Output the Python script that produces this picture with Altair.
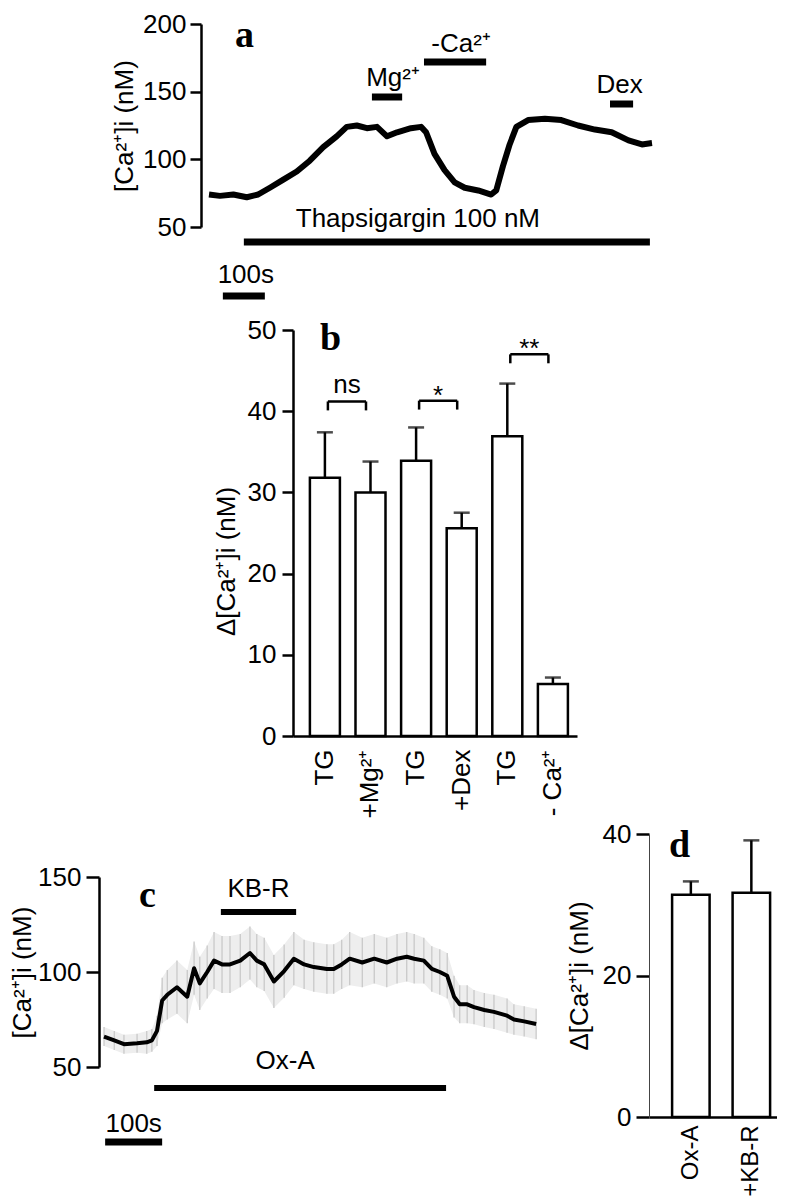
import altair as alt
import pandas as pd

SANS = "Liberation Sans"
SERIF = "Liberation Serif"
FS = 26

# ---------------- panel a : [Ca2+]i trace with thapsigargin ----------------
a_time_s = [0, 26, 58, 90, 117, 145, 177, 209, 240, 272, 304, 328, 352, 376, 400, 424, 448, 481, 505, 517,
            537, 561, 585, 609, 641, 672, 684, 700, 716, 732, 760, 800, 839, 879, 919, 959, 999, 1031, 1055]
a_ca_nM = [74, 73, 74, 72, 74, 79, 85, 91, 99, 109, 117, 124, 125, 123, 124, 117, 120, 123, 124, 120,
           104, 92, 83, 79, 77, 74, 77, 95, 111, 124, 129, 130, 129, 125, 122, 120, 114, 111, 112]
a_events = ["Thapsigargin 100 nM", "Mg²⁺", "-Ca²⁺", "Dex"]
a_event_start_s = [83, 388, 512, 955]
a_event_end_s = [1050, 460, 660, 1010]
a_scalebar_s = [33, 133]
a_yticks = [50, 100, 150, 200]

# ---------------- panel b : bar chart ----------------
b_groups = ["TG#1", "+Mg²⁺", "TG#2", "+Dex", "TG#3", "- Ca²⁺"]
b_mean = [31.8, 30.0, 33.9, 25.6, 36.9, 6.4]
b_sem = [5.6, 3.8, 4.1, 1.9, 6.5, 0.8]
b_sig_left = ["TG#1", "TG#2", "TG#3"]
b_sig_right = ["+Mg²⁺", "+Dex", "- Ca²⁺"]
b_sig_level = [41.2, 41.3, 47.0]
b_sig_leg = [1.1, 1.1, 1.1]
b_sig_text = ["ns", "*", "**"]
b_yticks = [0, 10, 20, 30, 40, 50]

# ---------------- panel c : orexin-A trace (mean +/- SD) ----------------
c_time_s = [0, 18, 35, 58, 75, 84, 93, 102, 111, 128, 146, 158, 168, 181, 193, 207, 221, 239, 256, 268,
            281, 298, 316, 333, 351, 368, 391, 403, 417, 431, 453, 474, 496, 514, 531, 544, 561, 575, 589, 602,
            614, 624, 637, 649, 667, 684, 707, 719, 737, 758]
c_mean_nM = [66, 64, 62, 62.5, 63, 64, 69, 85, 88, 92, 87, 102, 94, 100, 106, 104, 104, 106, 110, 106,
             104, 95, 100.5, 107, 104, 102.6, 101.6, 101.6, 104, 107, 105, 107, 105, 107, 108, 107, 106, 101.6, 100, 98,
             87, 83, 83, 81.5, 80, 79, 77, 75, 74, 72.6]
c_sd_nM = [5, 5, 5, 5, 6, 6, 8, 12, 13, 14, 14, 14, 14, 14, 15, 15, 15, 14, 14, 14,
           14, 14, 14, 14, 13, 13, 13, 13, 13, 14, 13, 13, 13, 13, 13, 13, 12, 12, 12, 12,
           11, 10, 10, 9, 9, 9, 9, 8, 8, 8]
c_events = ["KB-R", "Ox-A"]
c_event_start_s = [205, 88]
c_event_end_s = [337, 600]
c_scalebar_s = [2, 102]
c_yticks = [50, 100, 150]

# ---------------- panel d : bar chart ----------------
d_groups = ["Ox-A", "+KB-R"]
d_mean = [31.4, 31.7]
d_sem = [1.9, 7.4]
d_yticks = [0, 20, 40]

# ---------------- layout (pixels) ----------------
W = 678
A_H, B_H, CD_H, GAP = 203, 406, 278, 103


def one_row(**kw):
    return pd.DataFrame({k: [v] for k, v in kw.items()})


def hbar(start, end, xscale, ypix, width=7):
    return alt.Chart(one_row(s=start, e=end)).mark_rule(
        color="black", strokeWidth=width, strokeCap="butt").encode(
        x=alt.X("s:Q", scale=xscale, axis=None), x2=alt.X2("e:Q"), y=alt.value(ypix))


def bar_label(start, end, text, xscale, ypix, dx=0):
    return alt.Chart(one_row(s=start, e=end, label=text)).transform_calculate(
        mid="(datum.s + datum.e) / 2").mark_text(
        font=SANS, fontSize=FS, color="black", align="center", baseline="alphabetic", dx=dx).encode(
        x=alt.X("mid:Q", scale=xscale, axis=None), y=alt.value(ypix), text="label:N")


def letter(ch, xpix, ypix):
    return alt.Chart(one_row(label=ch)).mark_text(
        font=SERIF, fontSize=38, fontWeight="bold", color="black", align="left",
        baseline="alphabetic").encode(x=alt.value(xpix), y=alt.value(ypix), text="label:N")


# ---------------- panel a ----------------
a_xs = alt.Scale(domain=[0, 1055], range=[110, 553])
a_ys = alt.Scale(domain=[50, 200], nice=False, zero=False)
a_axis = alt.Axis(values=a_yticks, offset=-102, title="[Ca²⁺]i  (nM)", titleX=-77,
                  titleBaseline="middle", tickSize=11, labelPadding=4)
a_df = pd.DataFrame({"t": a_time_s, "ca": a_ca_nM})
a_trace = alt.Chart(a_df).mark_line(color="black", strokeWidth=6, strokeJoin="round").encode(
    x=alt.X("t:Q", scale=a_xs, axis=None), y=alt.Y("ca:Q", scale=a_ys, axis=a_axis))
a_place = {"Thapsigargin 100 nM": (218, 203, -29), "Mg²⁺": (73, 62, 6),
           "-Ca²⁺": (38, 28, 6), "Dex": (80, 69, -2)}
a_layers = [a_trace]
for name, s, e in zip(a_events, a_event_start_s, a_event_end_s):
    by_, ty_, dx_ = a_place[name]
    a_layers += [hbar(s, e, a_xs, by_), bar_label(s, e, name, a_xs, ty_, dx_)]
a_layers += [hbar(a_scalebar_s[0], a_scalebar_s[1], a_xs, 272),
             bar_label(a_scalebar_s[0], a_scalebar_s[1], "100s", a_xs, 259, 2),
             letter("a", 136, 23)]
panel_a = alt.layer(*a_layers).properties(width=W, height=A_H)

# ---------------- panel b ----------------
b_xs = alt.Scale(domain=b_groups, range=[194, 478], paddingInner=0.342, paddingOuter=0.285, align=0.65)
b_xaxis = alt.Axis(title=None, labelAngle=270, labelAlign="right", labelBaseline="middle", ticks=False,
                   labelPadding=13, labelExpr="split(datum.label, '#')[0]")
b_ys = alt.Scale(domain=[0, 50], nice=False)
b_yaxis = alt.Axis(values=b_yticks, offset=-194, title="Δ[Ca²⁺]i  (nM)", titleX=-67, titleY=231,
                   titleBaseline="middle", tickSize=11, labelPadding=6)
b_df = pd.DataFrame({"g": b_groups, "mean": b_mean, "sem": b_sem})
bx = alt.X("g:N", scale=b_xs, axis=b_xaxis)
b_base = alt.Chart(b_df).transform_calculate(top="datum.mean + datum.sem")
b_bars = b_base.mark_bar(fill="white", stroke="black", strokeWidth=2.5).encode(
    x=bx, y=alt.Y("mean:Q", scale=b_ys, axis=b_yaxis))
b_err = b_base.mark_rule(color="black", strokeWidth=2.5).encode(
    x=bx, y=alt.Y("mean:Q", scale=b_ys, axis=b_yaxis), y2="top:Q")
b_cap = b_base.mark_tick(color="black", thickness=2.5, size=16).encode(
    x=bx, y=alt.Y("top:Q", scale=b_ys, axis=b_yaxis))

sig_df = pd.DataFrame({"l": b_sig_left, "r": b_sig_right, "lev": b_sig_level, "leg": b_sig_leg,
                       "txt": b_sig_text})
sig = alt.Chart(sig_df).transform_calculate(low="datum.lev - datum.leg")
sig_y = alt.Y("lev:Q", scale=b_ys, axis=b_yaxis)
sig_h = sig.mark_rule(color="black", strokeWidth=2.5).encode(
    x=alt.X("l:N", scale=b_xs, axis=b_xaxis, bandPosition=0.6),
    x2=alt.X2("r:N", bandPosition=0.35), y=sig_y)
sig_l = sig.mark_rule(color="black", strokeWidth=2.5).encode(
    x=alt.X("l:N", scale=b_xs, axis=b_xaxis, bandPosition=0.6), y=sig_y, y2="low:Q")
sig_r = sig.mark_rule(color="black", strokeWidth=2.5).encode(
    x=alt.X("r:N", scale=b_xs, axis=b_xaxis, bandPosition=0.35), y=sig_y, y2="low:Q")
sig_ns = sig.transform_filter("datum.txt == 'ns'").mark_text(
    font=SANS, fontSize=FS, color="black", baseline="alphabetic", align="center", dx=7, dy=-8).encode(
    x=alt.X("l:N", scale=b_xs, axis=b_xaxis, bandPosition=1), y=sig_y, text="txt:N")
sig_ast = sig.transform_filter("datum.txt != 'ns'").mark_text(
    font=SANS, fontSize=FS, color="black", baseline="alphabetic", align="center", dx=7, dy=3).encode(
    x=alt.X("l:N", scale=b_xs, axis=b_xaxis, bandPosition=1), y=sig_y, text="txt:N")
panel_b = alt.layer(b_bars, b_err, b_cap, sig_h, sig_l, sig_r, sig_ns, sig_ast,
                    letter("b", 221, 20)).properties(width=W, height=B_H)

# ---------------- panel c ----------------
c_xs = alt.Scale(domain=[0, 763], range=[5, 440])
c_ys = alt.Scale(domain=[50, 150], range=[228, 38], nice=False, zero=False)
c_axis = alt.Axis(values=c_yticks, orient="left", offset=0, title="[Ca²⁺]i  (nM)", titleX=-77,
                  titleBaseline="middle", tickSize=13, labelPadding=5)
c_df = pd.DataFrame({"t": c_time_s, "m": c_mean_nM, "sd": c_sd_nM})
c_base = alt.Chart(c_df).transform_calculate(lo="datum.m - datum.sd", hi="datum.m + datum.sd")
cx = alt.X("t:Q", scale=c_xs, axis=None)
c_band = c_base.mark_area(color="#eeeeee").encode(
    x=cx, y=alt.Y("lo:Q", scale=c_ys, axis=c_axis), y2="hi:Q")
c_sdl = c_base.mark_rule(color="#c6c6c6", strokeWidth=1.2).encode(
    x=cx, y=alt.Y("lo:Q", scale=c_ys, axis=c_axis), y2="hi:Q")
c_line = c_base.mark_line(color="black", strokeWidth=4, strokeJoin="round").encode(
    x=cx, y=alt.Y("m:Q", scale=c_ys, axis=c_axis))
c_place = {"KB-R": (73, 58, 0), "Ox-A": (249, 230, -15)}
c_layers = [c_band, c_sdl, c_line]
for name, s, e in zip(c_events, c_event_start_s, c_event_end_s):
    by_, ty_, dx_ = c_place[name]
    c_layers += [hbar(s, e, c_xs, by_, 6), bar_label(s, e, name, c_xs, ty_, dx_)]
c_layers += [hbar(c_scalebar_s[0], c_scalebar_s[1], c_xs, 303, 7),
             bar_label(c_scalebar_s[0], c_scalebar_s[1], "100s", c_xs, 293, 0),
             letter("c", 40, 68)]
layer_c = alt.layer(*c_layers)

# ---------------- panel d ----------------
d_xs = alt.Scale(domain=d_groups, range=[550, 678], paddingInner=0.38, paddingOuter=0.248, align=0.77)
d_xaxis = alt.Axis(orient="bottom", title=None, labelAngle=270, labelAlign="right", labelBaseline="middle",
                   ticks=False, labelPadding=8, labelFontSize=24)
d_ys = alt.Scale(domain=[0, 40], range=[278, -5], nice=False)
d_yaxis = alt.Axis(values=d_yticks, orient="left", offset=-550, title="Δ[Ca²⁺]i  (nM)", titleX=-70,
                   titleBaseline="middle", tickSize=13, labelPadding=5, domainWidth=1, domainColor="#444444")
d_df = pd.DataFrame({"g": d_groups, "mean": d_mean, "sem": d_sem})
d_base = alt.Chart(d_df).transform_calculate(top="datum.mean + datum.sem")
dx_enc = alt.X("g:N", scale=d_xs, axis=d_xaxis)
d_bars = d_base.mark_bar(fill="white", stroke="black", strokeWidth=2.5).encode(
    x=dx_enc, y=alt.Y("mean:Q", scale=d_ys, axis=d_yaxis))
d_err = d_base.mark_rule(color="black", strokeWidth=2.5).encode(
    x=dx_enc, y=alt.Y("mean:Q", scale=d_ys, axis=d_yaxis), y2="top:Q")
d_cap = d_base.mark_tick(color="black", thickness=2.5, size=16).encode(
    x=dx_enc, y=alt.Y("top:Q", scale=d_ys, axis=d_yaxis))
layer_d = alt.layer(d_bars, d_err, d_cap, letter("d", 570, 18))

panel_cd = alt.layer(layer_c, layer_d).resolve_scale(x="independent", y="independent").properties(
    width=W, height=CD_H)

chart = alt.vconcat(panel_a, panel_b, panel_cd, spacing=GAP, bounds="flush").properties(
    padding={"top": 3, "left": 0, "right": 0, "bottom": 0}
).configure_view(stroke=None).configure_axis(
    labelFont=SANS, titleFont=SANS, labelFontSize=FS, titleFontSize=FS, titleFontWeight="normal",
    labelColor="black", titleColor="black", domainColor="black", tickColor="black",
    domainWidth=2.5, tickWidth=2.5, grid=False
)

chart.save("out.html", embed_options={"renderer": "svg", "actions": False})
